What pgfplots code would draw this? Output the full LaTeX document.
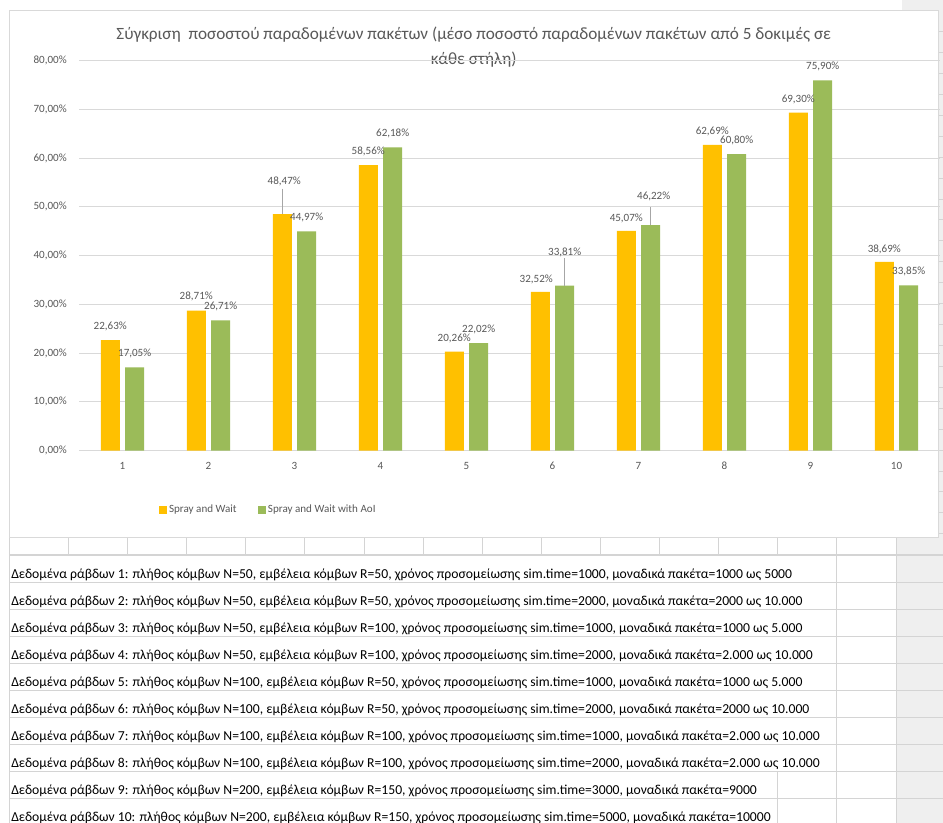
\documentclass[border=0pt]{standalone}
\usepackage{fontspec}
\setmainfont{Carlito}
\usepackage{pgfplots}
\usepackage{pgfplotstable}
\pgfplotsset{compat=1.18}
\definecolor{swor}{HTML}{FFC000}
\definecolor{swgr}{HTML}{9BBB59}
\definecolor{txtg}{HTML}{595959}
\definecolor{gridg}{HTML}{D9D9D9}
\definecolor{cellg}{HTML}{D4D4D4}
\definecolor{sideg}{HTML}{EFEFEF}
\definecolor{leadg}{HTML}{A6A6A6}

\pgfplotstableread{
x sw swdx swdy swlead aoi aoidx aoidy aoilead
1 22.63 0 13.5 0 17.05 0 13.5 0
2 28.71 0 14 0 26.71 0 14 0
3 48.47 2 32.3 25.7 44.97 0 14 0
4 58.56 0 13.3 0 62.18 0 14.3 0
5 20.26 0 13 0 22.02 0 13.7 0
6 32.52 -4 12.7 0 33.81 0 33.3 27.6
7 45.07 0 12.3 0 46.22 3 28.3 17.7
8 62.69 0 13 0 60.80 0 13.4 0
9 69.30 0 13.3 0 75.90 0 14 0
10 38.69 0 12.7 0 33.85 0 13.7 0
}\datatable

\newcommand{\chartfont}{\fontsize{8.3}{10}\selectfont}
\newcommand{\rowfont}{\fontsize{10.25}{12}\selectfont}

\begin{document}
\begin{tikzpicture}
\begin{scope}[x=0.75pt,y=-0.75pt]
\useasboundingbox (0,0) rectangle (943,823);
\fill[white] (0,0) rectangle (943,823);
\fill[sideg] (896,11) rectangle (943,823);
\fill[sideg] (902,0) rectangle (943,11);
% spreadsheet horizontal lines
\foreach \k in {0,...,9} {
  \draw[cellg, line width=0.75pt] (9.5,{555+27.03*\k}) -- (943,{555+27.03*\k});
}
% small row ticks beside chart
\foreach \k in {0,...,24} {
  \draw[cellg, line width=0.75pt] (938.5,{31.7+20.92*\k}) -- (943,{31.7+20.92*\k});
}
% vertical lines in first empty row
\foreach \k in {1,...,14} {
  \draw[cellg, line width=0.75pt] ({9.5+59.09*\k},537.3) -- ({9.5+59.09*\k},555);
}
\draw[cellg, line width=0.75pt] (9.5,537.3) -- (9.5,823);
\draw[cellg, line width=0.75pt] (836.9,537.3) -- (836.9,823);
\draw[cellg, line width=0.75pt] (896,537.3) -- (896,823);
\draw[cellg, line width=0.75pt] (777.8,771.2) -- (777.8,823);
% chart area
\fill[white, draw=gridg, line width=0.75pt] (9.5,11) rectangle (938.5,537.3);
% title
\node[anchor=base, inner sep=0pt, text=txtg, font=\fontsize{12.9}{15}\selectfont] at (473.75,39.5)
  {Σύγκριση\ \ ποσοστού παραδομένων πακέτων (μέσο ποσοστό παραδομένων πακέτων από 5 δοκιμές σε};
\node[anchor=base, inner sep=0pt, text=txtg, font=\fontsize{12.9}{15}\selectfont] at (473.75,64.5)
  {κάθε στήλη)};
% table rows
\begin{scope}[every node/.style={anchor=base west, inner sep=0pt, font=\rowfont, text=black}]
\node at (11,578.0) {Δεδομένα ράβδων 1: πλήθος κόμβων N=50, εμβέλεια κόμβων R=50, χρόνος προσομείωσης sim.time=1000, μοναδικά πακέτα=1000 ως 5000};
\node at (11,605.1) {Δεδομένα ράβδων 2: πλήθος κόμβων N=50, εμβέλεια κόμβων R=50, χρόνος προσομείωσης sim.time=2000, μοναδικά πακέτα=2000 ως 10.000};
\node at (11,632.1) {Δεδομένα ράβδων 3: πλήθος κόμβων N=50, εμβέλεια κόμβων R=100, χρόνος προσομείωσης sim.time=1000, μοναδικά πακέτα=1000 ως 5.000};
\node at (11,659.1) {Δεδομένα ράβδων 4: πλήθος κόμβων N=50, εμβέλεια κόμβων R=100, χρόνος προσομείωσης sim.time=2000, μοναδικά πακέτα=2.000 ως 10.000};
\node at (11,686.2) {Δεδομένα ράβδων 5: πλήθος κόμβων N=100, εμβέλεια κόμβων R=50, χρόνος προσομείωσης sim.time=1000, μοναδικά πακέτα=1000 ως 5.000};
\node at (11,713.2) {Δεδομένα ράβδων 6: πλήθος κόμβων N=100, εμβέλεια κόμβων R=50, χρόνος προσομείωσης sim.time=2000, μοναδικά πακέτα=2000 ως 10.000};
\node at (11,740.2) {Δεδομένα ράβδων 7: πλήθος κόμβων N=100, εμβέλεια κόμβων R=100, χρόνος προσομείωσης sim.time=1000, μοναδικά πακέτα=2.000 ως 10.000};
\node at (11,767.2) {Δεδομένα ράβδων 8: πλήθος κόμβων N=100, εμβέλεια κόμβων R=100, χρόνος προσομείωσης sim.time=2000, μοναδικά πακέτα=2.000 ως 10.000};
\node at (11,794.3) {Δεδομένα ράβδων 9: πλήθος κόμβων N=200, εμβέλεια κόμβων R=150, χρόνος προσομείωσης sim.time=3000, μοναδικά πακέτα=9000};
\node at (11,821.3) {Δεδομένα ράβδων 10: πλήθος κόμβων N=200, εμβέλεια κόμβων R=150, χρόνος προσομείωσης sim.time=5000, μοναδικά πακέτα=10000};
\end{scope}
\end{scope}

\begin{axis}[
  at={(59.625pt,-337.875pt)}, anchor=south west,
  scale only axis, width=645pt, height=292.5pt,
  xmin=0.5, xmax=10.5, ymin=0, ymax=80,
  clip=false,
  axis line style={draw=none},
  tick style={draw=none},
  ymajorgrids, major grid style={gridg, line width=0.75pt},
  ytick={0,10,...,80}, xtick={1,...,10},
  /pgf/number format/assume math mode=true,
  yticklabel={\pgfmathprintnumber[fixed,fixed zerofill,precision=2,use comma]{\tick}\%},
  ticklabel style={font=\chartfont, text=txtg, inner sep=0pt},
  yticklabel shift=9.4pt,
  xticklabel shift=8.6pt,
  legend style={at={(0.2184,-0.1513)}, anchor=center, draw=none, fill=none,
    font=\chartfont, text=txtg, legend columns=2, inner sep=0pt,
    nodes={inner sep=0pt},
    /tikz/every even column/.append style={column sep=16pt},
    /tikz/every odd column/.append style={column sep=2pt}},
  bar width=14.25pt,
]
\addplot[ybar, forget plot, bar shift=-9.15pt, fill=swor, draw=none,
  point meta=y,
  error bars/.cd, y dir=plus, y explicit, error mark=none,
    error bar style={leadg, line width=0.6pt, xshift=-9.15pt},
  /pgfplots/.cd,
  visualization depends on={\thisrow{swdx}\as\ldx},
  visualization depends on={\thisrow{swdy}\as\ldy},
  nodes near coords={\pgfmathprintnumber[fixed,fixed zerofill,precision=2,use comma]{\pgfplotspointmeta}\%},
  nodes near coords style={anchor=center, font=\chartfont, text=txtg, inner sep=0pt,
    xshift=\ldx*0.75pt-9.15pt, yshift=\ldy*0.75pt},
] table[x=x,y=sw,y error expr=\thisrow{swlead}/4.875]{\datatable};
\addplot[ybar, forget plot, bar shift=9.15pt, fill=swgr, draw=none,
  point meta=y,
  error bars/.cd, y dir=plus, y explicit, error mark=none,
    error bar style={leadg, line width=0.6pt, xshift=9.15pt},
  /pgfplots/.cd,
  visualization depends on={\thisrow{aoidx}\as\ldx},
  visualization depends on={\thisrow{aoidy}\as\ldy},
  nodes near coords={\pgfmathprintnumber[fixed,fixed zerofill,precision=2,use comma]{\pgfplotspointmeta}\%},
  nodes near coords style={anchor=center, font=\chartfont, text=txtg, inner sep=0pt,
    xshift=\ldx*0.75pt+9.15pt, yshift=\ldy*0.75pt},
] table[x=x,y=aoi,y error expr=\thisrow{aoilead}/4.875]{\datatable};
\addlegendimage{legend image code/.code={\fill[swor] (0pt,-2.6pt) rectangle (5.1pt,2.6pt);}}
\addlegendentry{Spray and Wait}
\addlegendimage{legend image code/.code={\fill[swgr] (0pt,-2.6pt) rectangle (5.1pt,2.6pt);}}
\addlegendentry{Spray and Wait with AoI}
\end{axis}
\end{tikzpicture}
\end{document}
